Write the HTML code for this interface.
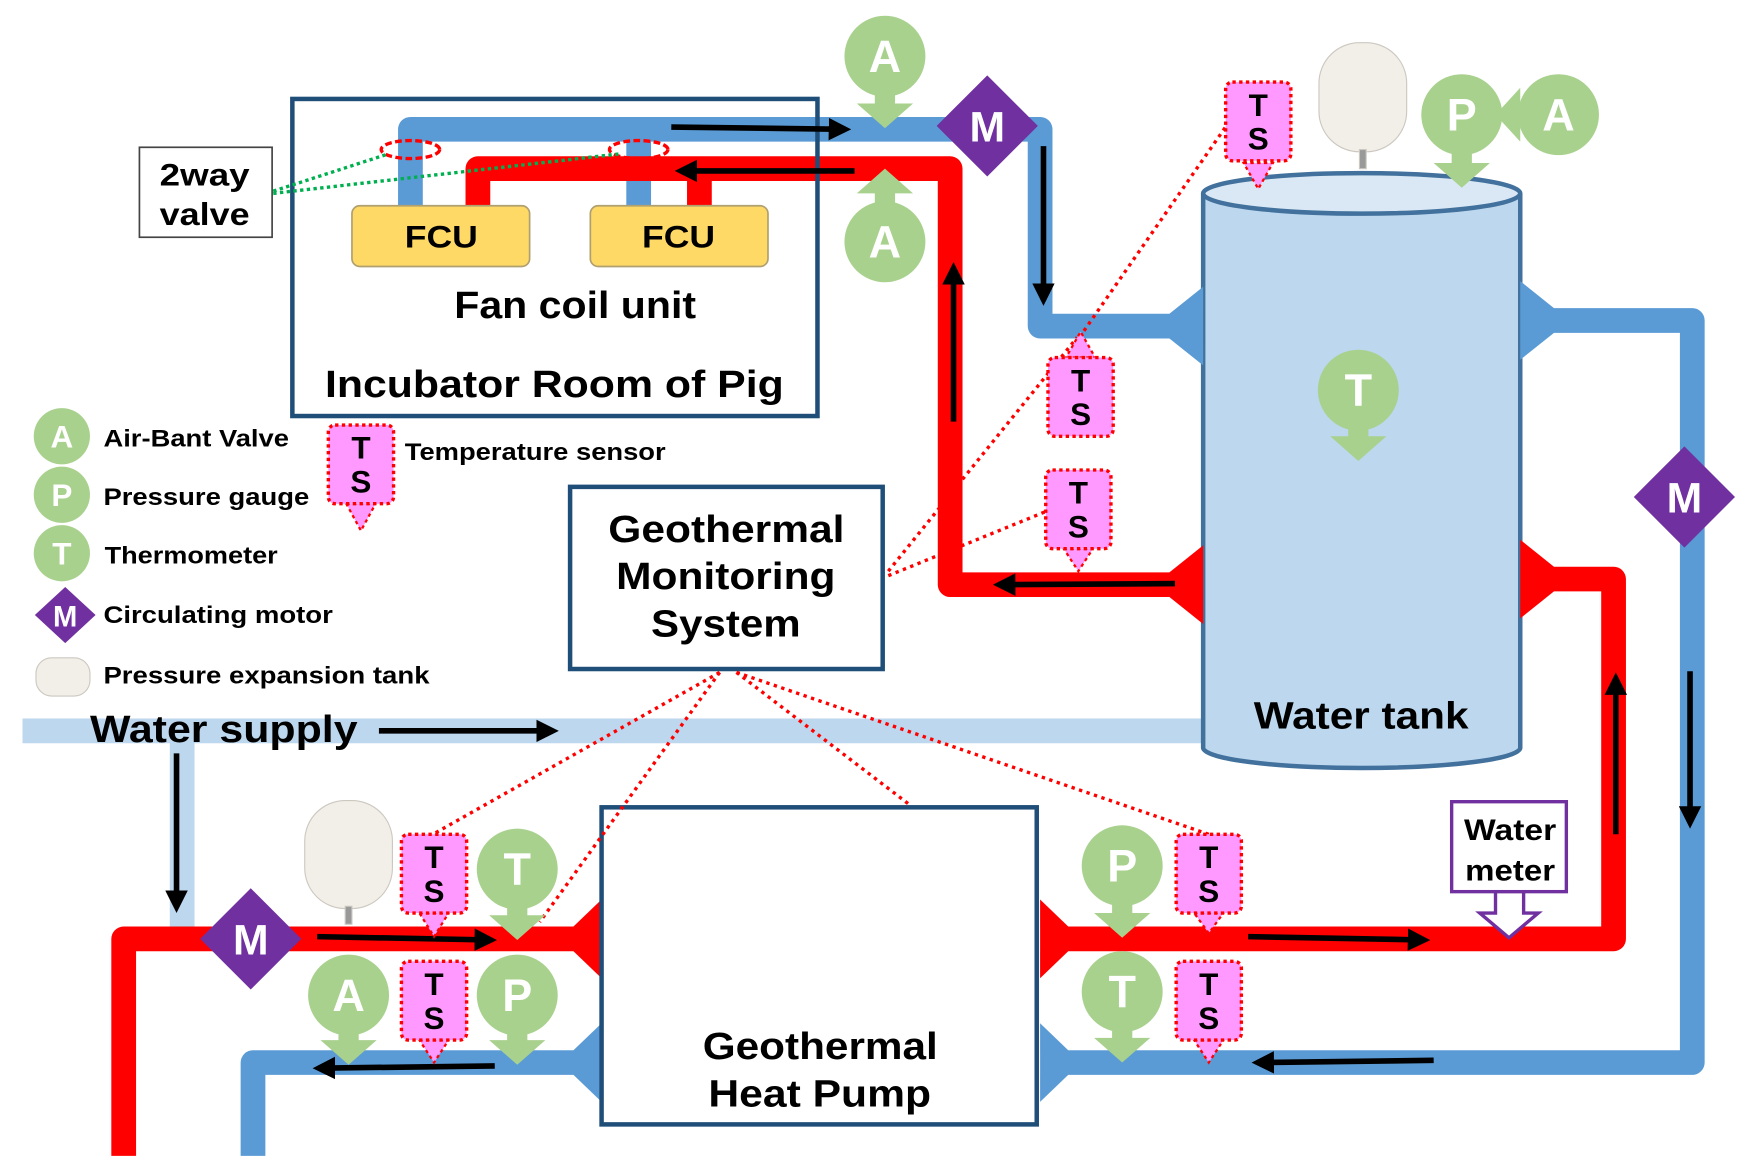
<!DOCTYPE html>
<html><head><meta charset="utf-8"><style>
html,body{margin:0;padding:0;background:#fff;}
svg{display:block;}
text{font-family:"Liberation Sans",sans-serif;font-weight:bold;}
</style></head><body>
<svg width="1762" height="1175" viewBox="0 0 1567 1045" preserveAspectRatio="none" xmlns="http://www.w3.org/2000/svg">
<defs>
<marker id="ah" markerWidth="4" markerHeight="4" refX="3" refY="2" orient="auto" markerUnits="strokeWidth"><path d="M0,0 L4,2 L0,4 z" fill="#000"/></marker>
<g id="tsd"><rect x="0" y="0" width="58" height="70" rx="6" fill="#ff99ff" stroke="#f00" stroke-width="3" stroke-dasharray="3,3"/><text x="29" y="30" font-size="28" text-anchor="middle">T</text><text x="29" y="60" font-size="28" text-anchor="middle">S</text></g>
</defs>
<path d="M20 650 H1075 M162 650 V825" stroke="#bdd7ee" stroke-width="22" fill="none"/>
<path d="M1070 172 V665 A141 18 0 0 0 1352 665 V172" fill="#bdd7ee" stroke="#41719c" stroke-width="4"/>
<ellipse cx="1211" cy="172" rx="141" ry="18" fill="#dae8f5" stroke="#41719c" stroke-width="4"/>
<g stroke="#5b9bd5" stroke-width="22" fill="none" stroke-linejoin="round">
<path d="M365 183 V115 H925 V290 H1060"/>
<path d="M568 183 V115"/>
<path d="M1355 285 H1505 V945 H940"/>
<path d="M520 945 H225 V1028"/>
</g>
<g stroke="#ff0000" stroke-width="22" fill="none" stroke-linejoin="round">
<path d="M425 183 V150 H845 V520 H1060"/>
<path d="M622 183 V150"/>
<path d="M1355 515 H1435 V835 H930"/>
<path d="M530 835 H110 V1028"/>
</g>
<polygon points="1040,279 1070,255 1070,325 1040,301" fill="#5b9bd5"/>
<polygon points="1382,274 1352,250 1352,320 1382,296" fill="#5b9bd5"/>
<polygon points="1040,509 1070,485 1070,555 1040,531" fill="#f00"/>
<polygon points="1382,504 1352,480 1352,550 1382,526" fill="#f00"/>
<polygon points="510,824 535,800 535,870 510,846" fill="#f00"/>
<polygon points="510,934 535,910 535,980 510,956" fill="#5b9bd5"/>
<polygon points="950,824 925,800 925,870 950,846" fill="#f00"/>
<polygon points="950,934 925,910 925,980 950,956" fill="#5b9bd5"/>
<rect x="260" y="88" width="467" height="282" fill="none" stroke="#1f4e79" stroke-width="4"/>
<rect x="507" y="433" width="278" height="162" fill="#fff" stroke="#1f4e79" stroke-width="4"/>
<rect x="535" y="718" width="387" height="282" fill="#fff" stroke="#1f4e79" stroke-width="4"/>
<rect x="124" y="131" width="118" height="80" fill="#fff" stroke="#444" stroke-width="1.5"/>
<rect x="313" y="183" width="158" height="54" rx="7" fill="#ffd966" stroke="#b0a070" stroke-width="1.5"/>
<rect x="525" y="183" width="158" height="54" rx="7" fill="#ffd966" stroke="#b0a070" stroke-width="1.5"/>
<ellipse cx="365" cy="133" rx="26" ry="8" fill="none" stroke="#f00" stroke-width="3" stroke-dasharray="6,3"/>
<ellipse cx="568" cy="133" rx="26" ry="8" fill="none" stroke="#f00" stroke-width="3" stroke-dasharray="6,3"/>
<path d="M243 170 L345 137 M243 172 L550 137" stroke="#00b050" stroke-width="3" stroke-dasharray="3,3"/>
<g stroke="#f00" stroke-width="3" stroke-dasharray="3,4" fill="none">
<path d="M960 300 L1092 110"/>
<path d="M790 508 L958 300"/>
<path d="M790 512 L930 455"/>
<path d="M640 598 L385 742"/>
<path d="M640 598 L480 820"/>
<path d="M655 598 L808 715"/>
<path d="M655 598 L1075 742"/>
</g>
<g stroke="#000" stroke-width="5" fill="none" marker-end="url(#ah)">
<path d="M597 113 L752 115"/>
<path d="M760 152 L605 152"/>
<path d="M848 375 L848 238"/>
<path d="M928 130 L928 267"/>
<path d="M1045 519 L888 520"/>
<path d="M337 650 L492 650"/>
<path d="M157 670 L157 807"/>
<path d="M282 833 L437 836"/>
<path d="M440 948 L283 950"/>
<path d="M1110 833 L1267 836"/>
<path d="M1275 943 L1118 945"/>
<path d="M1437 742 L1437 603"/>
<path d="M1503 597 L1503 732"/>
</g>
<g fill="#a9d18e">
<circle cx="787" cy="50" r="36"/><rect x="778" y="80" width="18" height="14"/><polygon points="762,92 812,92 787,114"/>
<circle cx="787" cy="215" r="36"/><rect x="778" y="170" width="18" height="20"/><polygon points="762,172 812,172 787,150"/>
<circle cx="1300" cy="102" r="36"/><rect x="1291" y="130" width="18" height="20"/><polygon points="1275,145 1325,145 1300,167"/>
<circle cx="1386" cy="102" r="36"/><polygon points="1352,78 1352,126 1330,102"/>
<circle cx="1208" cy="347" r="36"/><rect x="1199" y="375" width="18" height="15"/><polygon points="1183,388 1233,388 1208,410"/>
<circle cx="460" cy="773" r="36"/><rect x="451" y="800" width="18" height="17"/><polygon points="435,814 485,814 460,836"/>
<circle cx="310" cy="885" r="36"/><rect x="301" y="912" width="18" height="17"/><polygon points="285,925 335,925 310,947"/>
<circle cx="460" cy="885" r="36"/><rect x="451" y="912" width="18" height="17"/><polygon points="435,925 485,925 460,947"/>
<circle cx="998" cy="770" r="36"/><rect x="989" y="797" width="18" height="17"/><polygon points="973,812 1023,812 998,834"/>
<circle cx="998" cy="882" r="36"/><rect x="989" y="909" width="18" height="17"/><polygon points="973,923 1023,923 998,945"/>
<circle cx="55" cy="388" r="25"/><circle cx="55" cy="440" r="25"/><circle cx="55" cy="492" r="25"/>
</g>
<g fill="#fff" font-size="40" text-anchor="middle">
<text x="787" y="64">A</text><text x="787" y="229">A</text><text x="1300" y="116">P</text><text x="1386" y="116">A</text>
<text x="1208" y="361">T</text><text x="460" y="787">T</text><text x="310" y="899">A</text><text x="460" y="899">P</text>
<text x="998" y="784">P</text><text x="998" y="896">T</text>
</g>
<g fill="#fff" font-size="28" text-anchor="middle"><text x="55" y="398">A</text><text x="55" y="450">P</text><text x="55" y="502">T</text></g>
<g fill="#7030a0">
<polygon points="878,67 923,112 878,157 833,112"/>
<polygon points="1498,397 1543,442 1498,487 1453,442"/>
<polygon points="223,790 268,835 223,880 178,835"/>
<polygon points="58,522 85,547 58,572 31,547"/>
</g>
<g fill="#fff" text-anchor="middle"><text x="878" y="126" font-size="38">M</text><text x="1498" y="456" font-size="38">M</text><text x="223" y="849" font-size="38">M</text><text x="58" y="557" font-size="26">M</text></g>
<g fill="#ff99ff" stroke="#f00" stroke-width="2" stroke-dasharray="3,3">
<polygon points="1106,145 1132,145 1119,168"/>
<polygon points="948,318 974,318 961,295"/>
<polygon points="946,488 972,488 959,508"/>
<polygon points="308,448 334,448 321,472"/>
<polygon points="373,812 399,812 386,833"/>
<polygon points="373,925 399,925 386,945"/>
<polygon points="1062,812 1088,812 1075,830"/>
<polygon points="1062,925 1088,925 1075,945"/>
</g>
<use href="#tsd" x="1090" y="73"/><use href="#tsd" x="932" y="318"/><use href="#tsd" x="930" y="418"/>
<use href="#tsd" x="292" y="378"/><use href="#tsd" x="357" y="742"/><use href="#tsd" x="357" y="855"/>
<use href="#tsd" x="1046" y="742"/><use href="#tsd" x="1046" y="855"/>
<g fill="#f2efe9" stroke="#ccc8c0" stroke-width="1">
<rect x="1173" y="38" width="78" height="97" rx="36"/><rect x="1209" y="133" width="6" height="17" fill="#999"/>
<rect x="271" y="712" width="78" height="96" rx="36"/><rect x="307" y="806" width="6" height="16" fill="#999"/>
<rect x="32" y="585" width="48" height="34" rx="14"/>
</g>
<rect x="1291" y="713" width="102" height="80" fill="#fff" stroke="#7030a0" stroke-width="3"/>
<polygon points="1330,793 1355,793 1355,812 1368,812 1342,834 1316,812 1330,812" fill="#fff" stroke="#7030a0" stroke-width="3"/>
<g fill="#000">
<text x="360" y="220" font-size="28" textLength="65" lengthAdjust="spacingAndGlyphs">FCU</text>
<text x="571" y="220" font-size="28" textLength="65" lengthAdjust="spacingAndGlyphs">FCU</text>
<text x="404" y="283" font-size="34" textLength="215" lengthAdjust="spacingAndGlyphs">Fan coil unit</text>
<text x="289" y="353" font-size="34" textLength="408" lengthAdjust="spacingAndGlyphs">Incubator Room of Pig</text>
<text x="142" y="165" font-size="28" textLength="80" lengthAdjust="spacingAndGlyphs">2way</text>
<text x="142" y="200" font-size="28" textLength="80" lengthAdjust="spacingAndGlyphs">valve</text>
<text x="92" y="397" font-size="21" textLength="165" lengthAdjust="spacingAndGlyphs">Air-Bant Valve</text>
<text x="92" y="449" font-size="21" textLength="183" lengthAdjust="spacingAndGlyphs">Pressure gauge</text>
<text x="93" y="501" font-size="21" textLength="154" lengthAdjust="spacingAndGlyphs">Thermometer</text>
<text x="92" y="554" font-size="21" textLength="204" lengthAdjust="spacingAndGlyphs">Circulating motor</text>
<text x="92" y="608" font-size="21" textLength="290" lengthAdjust="spacingAndGlyphs">Pressure expansion tank</text>
<text x="360" y="409" font-size="21" textLength="232" lengthAdjust="spacingAndGlyphs">Temperature sensor</text>
<text x="541" y="482" font-size="34" textLength="210" lengthAdjust="spacingAndGlyphs">Geothermal</text>
<text x="548" y="524" font-size="34" textLength="195" lengthAdjust="spacingAndGlyphs">Monitoring</text>
<text x="579" y="566" font-size="34" textLength="133" lengthAdjust="spacingAndGlyphs">System</text>
<text x="80" y="660" font-size="34" textLength="238" lengthAdjust="spacingAndGlyphs">Water supply</text>
<text x="1115" y="648" font-size="34" textLength="191" lengthAdjust="spacingAndGlyphs">Water tank</text>
<text x="625" y="942" font-size="34" textLength="209" lengthAdjust="spacingAndGlyphs">Geothermal</text>
<text x="630" y="984" font-size="34" textLength="198" lengthAdjust="spacingAndGlyphs">Heat Pump</text>
<text x="1302" y="747" font-size="26" textLength="82" lengthAdjust="spacingAndGlyphs">Water</text>
<text x="1303" y="783" font-size="26" textLength="80" lengthAdjust="spacingAndGlyphs">meter</text>
</g>
</svg>
</body></html>
